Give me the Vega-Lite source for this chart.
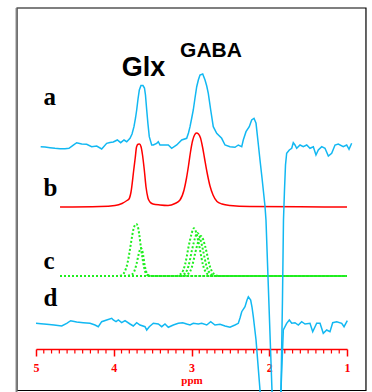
{
  "$schema": "https://vega.github.io/schema/vega-lite/v6.json",
  "width": 311,
  "height": 341,
  "autosize": "none",
  "padding": {"left": 36, "top": 8, "right": 25, "bottom": 43},
  "background": "white",
  "config": {
    "view": {"stroke": null}
  },
  "datasets": {
    "traces": [
      {"s":"a","x":4.940,"y":202.3},{"s":"a","x":4.884,"y":202},{"s":"a","x":4.820,"y":201.3},{"s":"a","x":4.756,"y":200.7},{"s":"a","x":4.691,"y":200.3},{"s":"a","x":4.627,"y":200.3},{"s":"a","x":4.576,"y":200.7},{"s":"a","x":4.524,"y":203.7},{"s":"a","x":4.477,"y":206.3},{"s":"a","x":4.412,"y":205},{"s":"a","x":4.348,"y":204.7},{"s":"a","x":4.284,"y":202.3},{"s":"a","x":4.219,"y":203},{"s":"a","x":4.155,"y":200},{"s":"a","x":4.091,"y":205.7},{"s":"a","x":4.048,"y":206.5},{"s":"a","x":4.006,"y":207},{"s":"a","x":3.954,"y":209},{"s":"a","x":3.911,"y":206.3},{"s":"a","x":3.868,"y":209},{"s":"a","x":3.833,"y":207.3},{"s":"a","x":3.791,"y":210.7},{"s":"a","x":3.765,"y":215},{"s":"a","x":3.740,"y":222.3},{"s":"a","x":3.720,"y":231},{"s":"a","x":3.705,"y":239},{"s":"a","x":3.688,"y":250},{"s":"a","x":3.671,"y":259},{"s":"a","x":3.650,"y":263.5},{"s":"a","x":3.624,"y":263.5},{"s":"a","x":3.605,"y":261},{"s":"a","x":3.592,"y":254},{"s":"a","x":3.576,"y":239},{"s":"a","x":3.560,"y":225},{"s":"a","x":3.543,"y":212.3},{"s":"a","x":3.512,"y":204},{"s":"a","x":3.491,"y":204},{"s":"a","x":3.448,"y":205.7},{"s":"a","x":3.427,"y":207.3},{"s":"a","x":3.405,"y":204},{"s":"a","x":3.363,"y":204},{"s":"a","x":3.298,"y":204},{"s":"a","x":3.255,"y":200.7},{"s":"a","x":3.190,"y":204},{"s":"a","x":3.126,"y":209},{"s":"a","x":3.062,"y":210.7},{"s":"a","x":3.039,"y":216},{"s":"a","x":3.019,"y":222.3},{"s":"a","x":2.997,"y":231},{"s":"a","x":2.977,"y":239},{"s":"a","x":2.955,"y":251},{"s":"a","x":2.933,"y":262.3},{"s":"a","x":2.912,"y":269},{"s":"a","x":2.891,"y":274},{"s":"a","x":2.856,"y":275},{"s":"a","x":2.826,"y":269},{"s":"a","x":2.804,"y":263},{"s":"a","x":2.784,"y":255.7},{"s":"a","x":2.753,"y":239},{"s":"a","x":2.720,"y":222.3},{"s":"a","x":2.676,"y":215.7},{"s":"a","x":2.612,"y":210.7},{"s":"a","x":2.569,"y":204},{"s":"a","x":2.505,"y":202.3},{"s":"a","x":2.441,"y":201.7},{"s":"a","x":2.398,"y":204},{"s":"a","x":2.354,"y":202.3},{"s":"a","x":2.334,"y":209},{"s":"a","x":2.299,"y":217.3},{"s":"a","x":2.257,"y":222.3},{"s":"a","x":2.226,"y":229},{"s":"a","x":2.196,"y":230.7},{"s":"a","x":2.170,"y":225.7},{"s":"a","x":2.141,"y":205},{"s":"a","x":2.119,"y":189},{"s":"a","x":2.093,"y":171},{"s":"a","x":2.055,"y":143},{"s":"a","x":2.042,"y":129},{"s":"a","x":1.965,"y":-41},{"s":"a","x":1.939,"y":-101},{"s":"a","x":1.853,"y":-101},{"s":"a","x":1.849,"y":-41},{"s":"a","x":1.830,"y":49},{"s":"a","x":1.817,"y":129},{"s":"a","x":1.804,"y":159},{"s":"a","x":1.791,"y":184},{"s":"a","x":1.776,"y":195.7},{"s":"a","x":1.742,"y":199},{"s":"a","x":1.711,"y":200.7},{"s":"a","x":1.691,"y":206.3},{"s":"a","x":1.669,"y":204},{"s":"a","x":1.647,"y":200.7},{"s":"a","x":1.604,"y":204},{"s":"a","x":1.562,"y":202.3},{"s":"a","x":1.518,"y":204},{"s":"a","x":1.476,"y":200.7},{"s":"a","x":1.433,"y":202.3},{"s":"a","x":1.399,"y":194},{"s":"a","x":1.369,"y":199},{"s":"a","x":1.325,"y":202.3},{"s":"a","x":1.283,"y":200.7},{"s":"a","x":1.240,"y":193},{"s":"a","x":1.197,"y":195.7},{"s":"a","x":1.154,"y":204},{"s":"a","x":1.112,"y":205},{"s":"a","x":1.048,"y":202.3},{"s":"a","x":1.004,"y":204},{"s":"a","x":0.974,"y":199.7},{"s":"a","x":0.940,"y":205.7},

      {"s":"b","x":4.691,"y":142},{"s":"b","x":4.177,"y":142.5},{"s":"b","x":3.984,"y":143.5},{"s":"b","x":3.894,"y":145.5},{"s":"b","x":3.830,"y":148.5},{"s":"b","x":3.804,"y":150},{"s":"b","x":3.778,"y":157},{"s":"b","x":3.743,"y":179},{"s":"b","x":3.724,"y":191},{"s":"b","x":3.707,"y":202},{"s":"b","x":3.688,"y":204.7},{"s":"b","x":3.669,"y":205},{"s":"b","x":3.650,"y":202.5},{"s":"b","x":3.630,"y":194},{"s":"b","x":3.607,"y":179},{"s":"b","x":3.585,"y":162},{"s":"b","x":3.560,"y":151},{"s":"b","x":3.534,"y":147},{"s":"b","x":3.495,"y":145},{"s":"b","x":3.405,"y":144},{"s":"b","x":3.302,"y":143.5},{"s":"b","x":3.212,"y":145.5},{"s":"b","x":3.148,"y":149},{"s":"b","x":3.096,"y":159},{"s":"b","x":3.064,"y":171},{"s":"b","x":3.039,"y":183},{"s":"b","x":3.013,"y":197},{"s":"b","x":2.987,"y":208},{"s":"b","x":2.961,"y":214},{"s":"b","x":2.936,"y":216},{"s":"b","x":2.910,"y":215},{"s":"b","x":2.884,"y":211},{"s":"b","x":2.858,"y":202},{"s":"b","x":2.833,"y":191},{"s":"b","x":2.801,"y":177},{"s":"b","x":2.762,"y":163},{"s":"b","x":2.723,"y":154},{"s":"b","x":2.672,"y":147.5},{"s":"b","x":2.608,"y":145},{"s":"b","x":2.505,"y":143.5},{"s":"b","x":2.248,"y":142.5},{"s":"b","x":1.604,"y":142.2},{"s":"b","x":1.0,"y":142},

      {"s":"g1","x":4.691,"y":73},{"s":"g1","x":3.945,"y":73},{"s":"g1","x":3.894,"y":74},{"s":"g1","x":3.855,"y":78},{"s":"g1","x":3.823,"y":86},{"s":"g1","x":3.797,"y":97},{"s":"g1","x":3.772,"y":109},{"s":"g1","x":3.749,"y":119},{"s":"g1","x":3.727,"y":124},{"s":"g1","x":3.710,"y":125},{"s":"g1","x":3.692,"y":123},{"s":"g1","x":3.673,"y":115},{"s":"g1","x":3.653,"y":103},{"s":"g1","x":3.633,"y":92},{"s":"g1","x":3.611,"y":82},{"s":"g1","x":3.585,"y":75.5},{"s":"g1","x":3.547,"y":73.2},{"s":"g1","x":3.469,"y":73},{"s":"g1","x":1.0,"y":73},

      {"s":"g2","x":4.691,"y":73},{"s":"g2","x":3.855,"y":73},{"s":"g2","x":3.778,"y":74},{"s":"g2","x":3.740,"y":77},{"s":"g2","x":3.707,"y":85},{"s":"g2","x":3.682,"y":94},{"s":"g2","x":3.662,"y":99.5},{"s":"g2","x":3.650,"y":101},{"s":"g2","x":3.637,"y":99.5},{"s":"g2","x":3.620,"y":93},{"s":"g2","x":3.605,"y":85},{"s":"g2","x":3.585,"y":78},{"s":"g2","x":3.560,"y":74},{"s":"g2","x":3.508,"y":73},{"s":"g2","x":1.0,"y":73},

      {"s":"g3","x":4.691,"y":73},{"s":"g3","x":3.199,"y":73},{"s":"g3","x":3.148,"y":74.5},{"s":"g3","x":3.105,"y":79},{"s":"g3","x":3.084,"y":84},{"s":"g3","x":3.062,"y":92},{"s":"g3","x":3.041,"y":101},{"s":"g3","x":3.019,"y":109},{"s":"g3","x":2.997,"y":116},{"s":"g3","x":2.981,"y":119.5},{"s":"g3","x":2.968,"y":120.7},{"s":"g3","x":2.955,"y":119.5},{"s":"g3","x":2.938,"y":116},{"s":"g3","x":2.916,"y":109},{"s":"g3","x":2.895,"y":101},{"s":"g3","x":2.874,"y":92},{"s":"g3","x":2.852,"y":84},{"s":"g3","x":2.830,"y":79},{"s":"g3","x":2.788,"y":74.5},{"s":"g3","x":2.736,"y":73},{"s":"g3","x":1.0,"y":73},

      {"s":"g4","x":4.691,"y":73},{"s":"g4","x":3.154,"y":73},{"s":"g4","x":3.103,"y":74.4},{"s":"g4","x":3.060,"y":78.4},{"s":"g4","x":3.039,"y":82.9},{"s":"g4","x":3.017,"y":90.1},{"s":"g4","x":2.996,"y":98.2},{"s":"g4","x":2.974,"y":105.4},{"s":"g4","x":2.952,"y":111.7},{"s":"g4","x":2.936,"y":114.9},{"s":"g4","x":2.923,"y":116},{"s":"g4","x":2.910,"y":114.9},{"s":"g4","x":2.893,"y":111.7},{"s":"g4","x":2.871,"y":105.4},{"s":"g4","x":2.850,"y":98.2},{"s":"g4","x":2.829,"y":90.1},{"s":"g4","x":2.807,"y":82.9},{"s":"g4","x":2.785,"y":78.4},{"s":"g4","x":2.743,"y":74.4},{"s":"g4","x":2.691,"y":73},{"s":"g4","x":1.0,"y":73},

      {"s":"g5","x":4.691,"y":73},{"s":"g5","x":3.109,"y":73},{"s":"g5","x":3.058,"y":74.3},{"s":"g5","x":3.015,"y":78},{"s":"g5","x":2.994,"y":82.2},{"s":"g5","x":2.972,"y":89},{"s":"g5","x":2.951,"y":96.5},{"s":"g5","x":2.929,"y":103.2},{"s":"g5","x":2.907,"y":109.1},{"s":"g5","x":2.891,"y":112},{"s":"g5","x":2.878,"y":113},{"s":"g5","x":2.865,"y":112},{"s":"g5","x":2.848,"y":109.1},{"s":"g5","x":2.826,"y":103.2},{"s":"g5","x":2.805,"y":96.5},{"s":"g5","x":2.784,"y":89},{"s":"g5","x":2.762,"y":82.2},{"s":"g5","x":2.740,"y":78},{"s":"g5","x":2.698,"y":74.3},{"s":"g5","x":2.646,"y":73},{"s":"g5","x":1.0,"y":73},

      {"s":"d","x":5.000,"y":25.7},{"s":"d","x":4.936,"y":25.2},{"s":"d","x":4.862,"y":24.7},{"s":"d","x":4.768,"y":24},{"s":"d","x":4.669,"y":23},{"s":"d","x":4.605,"y":25.7},{"s":"d","x":4.554,"y":28.3},{"s":"d","x":4.477,"y":27},{"s":"d","x":4.392,"y":26.3},{"s":"d","x":4.305,"y":25.7},{"s":"d","x":4.241,"y":24},{"s":"d","x":4.199,"y":22.3},{"s":"d","x":4.155,"y":27.3},{"s":"d","x":4.091,"y":29},{"s":"d","x":4.026,"y":30.7},{"s":"d","x":4.006,"y":29},{"s":"d","x":3.971,"y":27.3},{"s":"d","x":3.941,"y":29},{"s":"d","x":3.898,"y":26.3},{"s":"d","x":3.855,"y":28.3},{"s":"d","x":3.791,"y":25},{"s":"d","x":3.749,"y":23},{"s":"d","x":3.705,"y":26.3},{"s":"d","x":3.662,"y":24},{"s":"d","x":3.598,"y":22.3},{"s":"d","x":3.576,"y":19},{"s":"d","x":3.543,"y":22.3},{"s":"d","x":3.491,"y":25.7},{"s":"d","x":3.427,"y":25},{"s":"d","x":3.383,"y":22.3},{"s":"d","x":3.341,"y":25},{"s":"d","x":3.298,"y":21.7},{"s":"d","x":3.234,"y":24},{"s":"d","x":3.170,"y":25.7},{"s":"d","x":3.113,"y":26.3},{"s":"d","x":3.062,"y":25},{"s":"d","x":3.019,"y":24},{"s":"d","x":2.977,"y":25.7},{"s":"d","x":2.912,"y":25},{"s":"d","x":2.869,"y":25.7},{"s":"d","x":2.804,"y":24},{"s":"d","x":2.753,"y":27.3},{"s":"d","x":2.698,"y":24},{"s":"d","x":2.633,"y":24.7},{"s":"d","x":2.569,"y":23},{"s":"d","x":2.505,"y":21.7},{"s":"d","x":2.441,"y":24},{"s":"d","x":2.398,"y":25.7},{"s":"d","x":2.376,"y":31},{"s":"d","x":2.354,"y":37.3},{"s":"d","x":2.312,"y":42.3},{"s":"d","x":2.286,"y":49},{"s":"d","x":2.269,"y":52.3},{"s":"d","x":2.239,"y":49},{"s":"d","x":2.222,"y":42},{"s":"d","x":2.205,"y":32.3},{"s":"d","x":2.170,"y":9},{"s":"d","x":2.119,"y":-41},{"s":"d","x":2.093,"y":-91},{"s":"d","x":1.862,"y":-91},{"s":"d","x":1.849,"y":-41},{"s":"d","x":1.819,"y":19},{"s":"d","x":1.776,"y":25.7},{"s":"d","x":1.742,"y":29},{"s":"d","x":1.711,"y":25.7},{"s":"d","x":1.669,"y":26.3},{"s":"d","x":1.626,"y":24},{"s":"d","x":1.583,"y":27.3},{"s":"d","x":1.540,"y":25},{"s":"d","x":1.476,"y":25.7},{"s":"d","x":1.441,"y":17.3},{"s":"d","x":1.390,"y":25.7},{"s":"d","x":1.347,"y":25.7},{"s":"d","x":1.305,"y":15.7},{"s":"d","x":1.261,"y":19},{"s":"d","x":1.219,"y":17.3},{"s":"d","x":1.184,"y":26.3},{"s":"d","x":1.132,"y":27.3},{"s":"d","x":1.068,"y":25.7},{"s":"d","x":1.038,"y":22.3},{"s":"d","x":0.996,"y":28.3}
    ],
    "ticks": [
      {"x":4.9},{"x":4.8},{"x":4.7},{"x":4.6},{"x":4.5},{"x":4.4},{"x":4.3},{"x":4.2},{"x":4.1},
      {"x":3.9},{"x":3.8},{"x":3.7},{"x":3.6},{"x":3.5},{"x":3.4},{"x":3.3},{"x":3.2},{"x":3.1},
      {"x":2.9},{"x":2.8},{"x":2.7},{"x":2.6},{"x":2.5},{"x":2.4},{"x":2.3},{"x":2.2},{"x":2.1},
      {"x":1.9},{"x":1.8},{"x":1.7},{"x":1.6},{"x":1.5},{"x":1.4},{"x":1.3},{"x":1.2},{"x":1.1}
    ],
    "letters": [
      {"t":"a","x":4.904,"y":244},
      {"t":"b","x":4.904,"y":153},
      {"t":"c","x":4.904,"y":79.7},
      {"t":"d","x":4.904,"y":43.5}
    ],
    "peaks": [
      {"t":"Glx","x":3.617,"y":273,"k":"big"},
      {"t":"GABA","x":2.749,"y":292,"k":"small"}
    ]
  },
  "layer": [
    {
      "data": {"values": [{}]},
      "mark": {"type": "rect", "fill": "transparent", "stroke": "#000000", "strokeWidth": 1.2},
      "encoding": {
        "x": {
          "datum": 5.244, "type": "quantitative",
          "scale": {"domain": [1, 5], "reverse": true, "nice": false, "zero": false},
          "title": "ppm",
          "axis": {
            "values": [1, 2, 3, 4, 5],
            "format": "d",
            "grid": false,
            "domainColor": "#FF0000",
            "domainWidth": 1.5,
            "tickColor": "#FF0000",
            "tickWidth": 1.5,
            "tickSize": 7,
            "labelColor": "#FF0000",
            "labelFont": "Liberation Serif",
            "labelFontWeight": "bold",
            "labelFontSize": 12,
            "labelPadding": 6,
            "labelFlush": false,
            "labelOverlap": false,
            "labelBound": false,
            "titleColor": "#FF0000",
            "titleFont": "Liberation Serif",
            "titleFontWeight": "bold",
            "titleFontSize": 11,
            "titlePadding": 1
          }
        },
        "x2": {"datum": 0.756},
        "y": {"datum": 341, "type": "quantitative", "scale": {"domain": [0, 341], "nice": false, "zero": false}, "axis": null},
        "y2": {"datum": -41.5}
      }
    },
    {
      "data": {"values": [{}]},
      "mark": {"type": "rule", "stroke": "#808080", "strokeWidth": 2},
      "encoding": {
        "x": {"datum": 5.25, "type": "quantitative", "title": "ppm"},
        "y": {"datum": 341, "type": "quantitative", "axis": null},
        "y2": {"datum": -43}
      }
    },
    {
      "data": {"name": "ticks"},
      "mark": {"type": "rule", "stroke": "#FF0000", "strokeWidth": 1.2},
      "encoding": {
        "x": {"field": "x", "type": "quantitative", "title": "ppm"},
        "y": {"datum": 0, "type": "quantitative", "axis": null},
        "y2": {"datum": -4.5}
      }
    },
    {
      "data": {"name": "traces"},
      "transform": [{"filter": "datum.s === 'b'"}],
      "mark": {"type": "line", "stroke": "#FF0000", "strokeWidth": 1.5, "interpolate": "monotone"},
      "encoding": {
        "x": {"field": "x", "type": "quantitative", "title": "ppm"},
        "y": {"field": "y", "type": "quantitative", "axis": null},
        "order": {"field": "x", "sort": "descending"}
      }
    },
    {
      "data": {"name": "traces"},
      "transform": [{"filter": "indexof(['g1','g2','g3','g4','g5'], datum.s) >= 0"}],
      "mark": {"type": "line", "stroke": "#1FEE1F", "strokeWidth": 2, "strokeDash": [2, 2], "interpolate": "monotone"},
      "encoding": {
        "x": {"field": "x", "type": "quantitative", "title": "ppm"},
        "y": {"field": "y", "type": "quantitative", "axis": null},
        "detail": {"field": "s"},
        "order": {"field": "x", "sort": "descending"}
      }
    },
    {
      "data": {"name": "traces"},
      "transform": [{"filter": "datum.s === 'a' || datum.s === 'd'"}],
      "mark": {"type": "line", "stroke": "#12B8F2", "strokeWidth": 1.5},
      "encoding": {
        "x": {"field": "x", "type": "quantitative", "title": "ppm"},
        "y": {"field": "y", "type": "quantitative", "axis": null},
        "detail": {"field": "s"}
      }
    },
    {
      "data": {"name": "letters"},
      "mark": {"type": "text", "font": "Liberation Serif", "fontWeight": "bold", "fontSize": 25, "align": "left", "baseline": "alphabetic", "color": "#000000"},
      "encoding": {
        "x": {"field": "x", "type": "quantitative", "title": "ppm"},
        "y": {"field": "y", "type": "quantitative", "axis": null},
        "text": {"field": "t"}
      }
    },
    {
      "data": {"name": "peaks"},
      "transform": [{"filter": "datum.k === 'big'"}],
      "mark": {"type": "text", "font": "Liberation Sans", "fontWeight": "bold", "fontSize": 27, "align": "center", "baseline": "alphabetic", "color": "#000000"},
      "encoding": {
        "x": {"field": "x", "type": "quantitative", "title": "ppm"},
        "y": {"field": "y", "type": "quantitative", "axis": null},
        "text": {"field": "t"}
      }
    },
    {
      "data": {"name": "peaks"},
      "transform": [{"filter": "datum.k === 'small'"}],
      "mark": {"type": "text", "font": "Liberation Sans", "fontWeight": "bold", "fontSize": 21, "align": "center", "baseline": "alphabetic", "color": "#000000"},
      "encoding": {
        "x": {"field": "x", "type": "quantitative", "title": "ppm"},
        "y": {"field": "y", "type": "quantitative", "axis": null},
        "text": {"field": "t"}
      }
    }
  ]
}
